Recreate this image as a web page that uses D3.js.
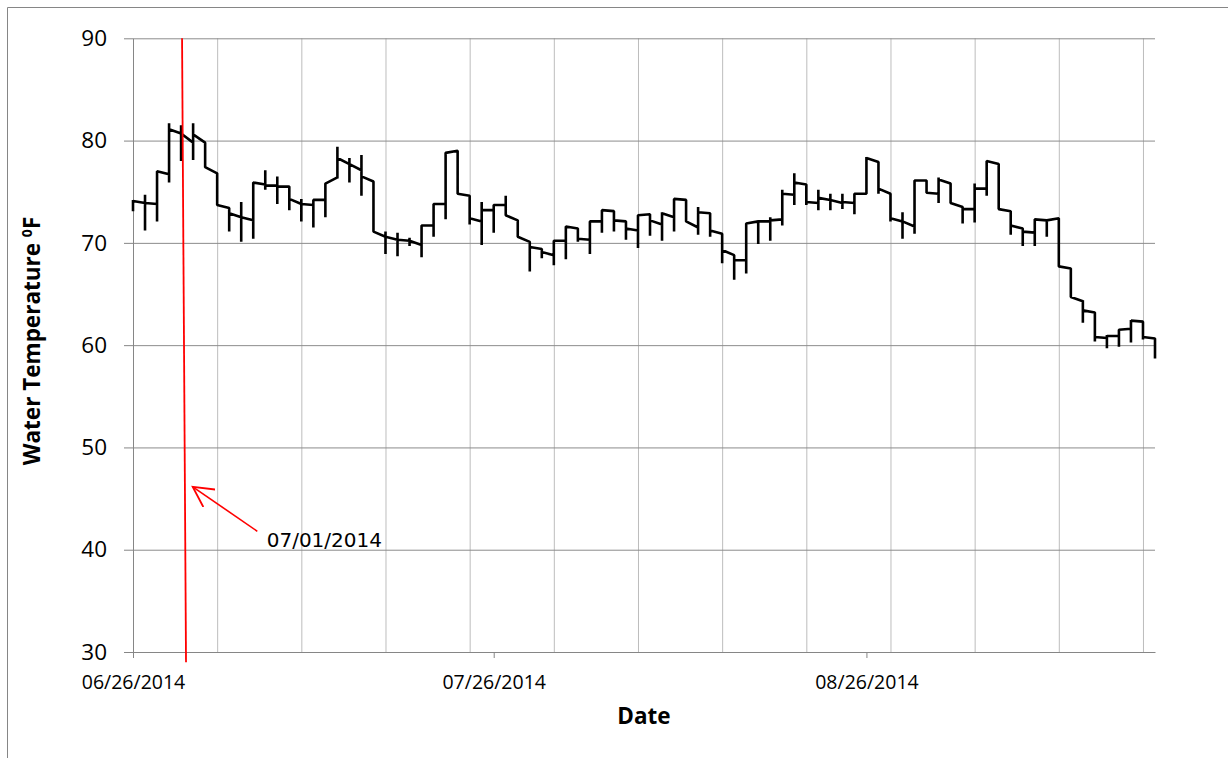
<!DOCTYPE html>
<html>
<head>
<meta charset="utf-8">
<title>Water Temperature</title>
<script src="https://cdn.jsdelivr.net/npm/d3@7"></script>
<style>
  body { margin: 0; background: #fff; }
  svg { display: block; }
</style>
</head>
<body>
<svg id="chart" width="1228" height="758"></svg>
<script>
// daily readings starting 06/26/2014; boundary i sits at day i
const startDay = Date.UTC(2014, 5, 26);
const endDay = Date.UTC(2014, 8, 19);

// vertical extent at each day boundary (86 entries)
const lowT = [73.1, 71.2, 72.1, 75.9, 78.0, 78.1, 77.4, 73.7, 71.1, 70.1,
  70.4, 75.2, 73.8, 73.2, 72.1, 71.5, 72.5, 76.3, 75.9, 74.6,
  71.1, 68.9, 68.7, 69.7, 68.6, 70.6, 72.3, 74.8, 71.8, 69.8,
  71.0, 72.7, 70.6, 67.2, 68.5, 67.8, 68.4, 70.1, 68.9, 71.0,
  71.1, 70.3, 69.5, 70.7, 70.2, 71.1, 72.1, 70.8, 70.6, 68.0,
  66.4, 67.0, 69.9, 70.2, 71.7, 73.7, 73.7, 73.2, 73.2, 73.3,
  72.8, 74.8, 74.8, 72.1, 70.4, 70.9, 74.9, 73.9, 73.9, 71.9,
  72.0, 74.6, 73.3, 70.8, 69.7, 69.7, 70.6, 67.7, 64.7, 62.2,
  60.35, 59.7, 59.85, 60.25, 60.55, 58.7];
const highT = [74.2, 74.7, 77.0, 81.7, 81.5, 81.7, 79.8, 76.8, 73.4, 74.0,
  75.9, 77.1, 76.5, 75.5, 74.3, 74.2, 75.8, 79.4, 78.3, 78.6,
  76.0, 71.1, 71.0, 70.5, 71.7, 73.8, 78.8, 79.0, 74.6, 74.0,
  73.7, 74.6, 72.2, 70.1, 69.4, 70.2, 71.6, 71.4, 72.1, 73.2,
  73.1, 72.1, 72.7, 72.8, 73.0, 74.3, 74.2, 73.5, 72.9, 70.9,
  68.8, 71.9, 72.1, 72.5, 75.2, 76.8, 75.7, 75.2, 74.8, 74.8,
  74.8, 78.4, 77.9, 74.8, 73.0, 76.1, 76.1, 76.4, 75.8, 73.5,
  75.8, 78.0, 77.7, 73.1, 71.4, 72.3, 72.2, 72.4, 67.5, 64.4,
  63.2, 61.0, 61.5, 62.45, 62.3, 60.65];
// level at start and end of each day (85 entries)
const openT = [74.1, 73.9, 77.0, 81.1, 80.7, 80.6, 77.4, 73.7, 72.9, 72.5,
  75.9, 75.6, 75.5, 74.3, 73.8, 74.2, 75.8, 78.3, 77.7, 76.5,
  71.1, 70.6, 70.3, 70.2, 71.7, 73.8, 78.8, 74.8, 72.4, 73.2,
  73.7, 72.7, 70.6, 69.6, 69.1, 70.2, 71.6, 70.4, 72.1, 73.2,
  72.2, 71.4, 72.7, 72.2, 72.9, 74.3, 72.1, 73.0, 71.2, 69.3,
  68.3, 71.9, 72.1, 72.2, 74.8, 75.9, 74.0, 74.4, 74.2, 74.0,
  74.8, 78.3, 75.3, 72.4, 72.1, 76.1, 74.9, 76.2, 73.9, 73.3,
  75.3, 78.0, 73.3, 71.7, 71.1, 72.3, 72.2, 67.7, 64.7, 63.4,
  60.8, 60.9, 61.5, 62.4, 60.8];
const closeT = [73.9, 73.8, 76.7, 80.7, 79.8, 79.8, 76.8, 73.4, 72.5, 72.2,
  75.7, 75.6, 75.5, 73.8, 73.7, 74.2, 76.4, 77.7, 77.1, 76.0,
  70.6, 70.3, 70.2, 69.8, 71.7, 73.8, 79.0, 74.6, 72.1, 73.2,
  73.7, 72.2, 70.1, 69.4, 68.8, 70.2, 71.4, 70.3, 72.1, 73.1,
  72.1, 71.2, 72.8, 71.8, 72.5, 74.2, 71.5, 72.9, 70.9, 68.8,
  68.3, 72.1, 72.1, 72.3, 74.7, 75.7, 73.9, 74.2, 73.9, 73.9,
  74.8, 77.9, 74.8, 72.1, 71.6, 76.1, 74.8, 75.8, 73.5, 73.3,
  75.3, 77.7, 73.1, 71.4, 71.0, 72.2, 72.4, 67.5, 64.3, 63.2,
  60.7, 60.9, 61.6, 62.3, 60.65];

const yTicks = [30, 40, 50, 60, 70, 80, 90];
const dateTicks = ['06/26/2014', '07/26/2014', '08/26/2014'];
const gridDays = [7, 14, 21, 28, 35, 42, 49, 56, 63, 70, 77, 84];

// hand drawn note: red marker line, arrow and label (day offset, temperature)
const noteText = '07/01/2014';
const noteLineDays = [4.08, 4.41];
const noteLineTemps = [90, 29];
const noteArrowDays = [10.34, 4.97];
const noteArrowTemps = [41.8, 46.15];
const noteLabelDay = 11.12;
const noteLabelTemp = 40.3;

const DAY = 86400000;
const toDate = (d) => new Date(startDay + d * DAY);
const parseDate = d3.utcParse('%m/%d/%Y');
const fmtDate = d3.utcFormat('%m/%d/%Y');

const svg = d3.select('#chart');
const plotLeft = 133, plotRight = 1155, plotTop = 38.3, plotBottom = 652;

const x = d3.scaleUtc().domain([new Date(startDay), new Date(endDay)]).range([plotLeft, plotRight]);
const y = d3.scaleLinear().domain([30, 90]).range([plotBottom, plotTop]);

svg.append('rect').attr('width', 1228).attr('height', 758).attr('fill', '#fff');

// chart frame
svg.append('path')
  .attr('d', 'M7.5,758V7.5H1228')
  .attr('fill', 'none')
  .attr('stroke', '#868686')
  .attr('stroke-width', 1);

// vertical grid (weekly)
svg.append('g')
  .attr('transform', `translate(0,${plotBottom})`)
  .call(d3.axisBottom(x).tickValues(gridDays.map(toDate)).tickSize(-(plotBottom - plotTop)).tickFormat(''))
  .call((g) => g.select('.domain').remove())
  .call((g) => g.selectAll('line').attr('stroke', '#bdbdbd'));

// horizontal grid
svg.append('g')
  .attr('transform', `translate(${plotLeft},0)`)
  .call(d3.axisLeft(y).tickValues(yTicks.slice(1)).tickSize(-(plotRight - plotLeft)).tickFormat(''))
  .call((g) => g.select('.domain').remove())
  .call((g) => g.selectAll('line').attr('stroke', '#8c8c8c'));

// y axis
const yAxis = svg.append('g')
  .attr('transform', `translate(${plotLeft},0)`)
  .call(d3.axisLeft(y).tickValues(yTicks).tickSizeInner(9).tickSizeOuter(0).tickPadding(17));
yAxis.select('.domain').attr('stroke', '#868686');
yAxis.selectAll('line').attr('stroke', '#868686');
yAxis.selectAll('text')
  .attr('fill', '#000')
  .style('font-family', '"Open Sans", sans-serif')
  .style('font-size', '22.5px');

// x axis
const xAxis = svg.append('g')
  .attr('transform', `translate(0,${plotBottom})`)
  .call(d3.axisBottom(x).tickValues(dateTicks.map(parseDate)).tickFormat(fmtDate)
    .tickSizeInner(6).tickSizeOuter(0).tickPadding(17));
xAxis.select('.domain').attr('stroke', '#868686');
xAxis.selectAll('line').attr('stroke', '#868686');
xAxis.selectAll('text')
  .attr('fill', '#000')
  .style('font-family', '"Open Sans", sans-serif')
  .style('font-size', '19.5px');

// temperature trace
const pts = [];
highT.forEach((hi, i) => {
  pts.push([i, lowT[i]], [i, hi]);
  if (i < openT.length) pts.push([i, openT[i]], [i + 1, closeT[i]]);
});
const line = d3.line()
  .x((d) => x(toDate(d[0])))
  .y((d) => y(d[1]));
svg.append('path')
  .datum(pts)
  .attr('d', line)
  .attr('fill', 'none')
  .attr('stroke', '#000')
  .attr('stroke-width', 2.6)
  .attr('stroke-linejoin', 'bevel');

// red note
svg.append('defs').append('marker')
  .attr('id', 'open-arrow')
  .attr('viewBox', '0 -6 12 12')
  .attr('refX', 11)
  .attr('refY', 0)
  .attr('orient', 'auto')
  .attr('markerUnits', 'userSpaceOnUse')
  .attr('markerWidth', 22)
  .attr('markerHeight', 22)
  .append('path')
  .attr('d', 'M0,-5.8L11,0L0,5.8')
  .attr('fill', 'none')
  .attr('stroke', 'red')
  .attr('stroke-width', 1);

svg.append('path')
  .datum(noteLineDays.map((d, i) => [d, noteLineTemps[i]]))
  .attr('d', line)
  .attr('stroke', 'red')
  .attr('stroke-width', 1.8)
  .attr('fill', 'none');

svg.append('path')
  .datum(noteArrowDays.map((d, i) => [d, noteArrowTemps[i]]))
  .attr('d', line)
  .attr('stroke', 'red')
  .attr('stroke-width', 1.6)
  .attr('fill', 'none')
  .attr('marker-end', 'url(#open-arrow)');

svg.append('text')
  .attr('x', x(toDate(noteLabelDay)))
  .attr('y', y(noteLabelTemp))
  .style('font-family', '"DejaVu Sans", sans-serif')
  .style('font-size', '20px')
  .attr('fill', '#000')
  .text(noteText);

// axis titles
svg.append('text')
  .attr('x', 644)
  .attr('y', 724)
  .attr('text-anchor', 'middle')
  .style('font-family', '"Open Sans", sans-serif')
  .style('font-size', '22.5px')
  .style('font-weight', 'bold')
  .text('Date');

const yTitle = svg.append('text')
  .attr('transform', 'translate(40,341) rotate(-90)')
  .attr('text-anchor', 'middle')
  .style('font-family', '"Open Sans", sans-serif')
  .style('font-size', '22.5px')
  .style('font-weight', 'bold');
yTitle.append('tspan').text('Water Temperature ');
yTitle.append('tspan').attr('dy', -8).style('font-size', '14px').text('0');
yTitle.append('tspan').attr('dy', 8).text('F');
</script>
</body>
</html>
